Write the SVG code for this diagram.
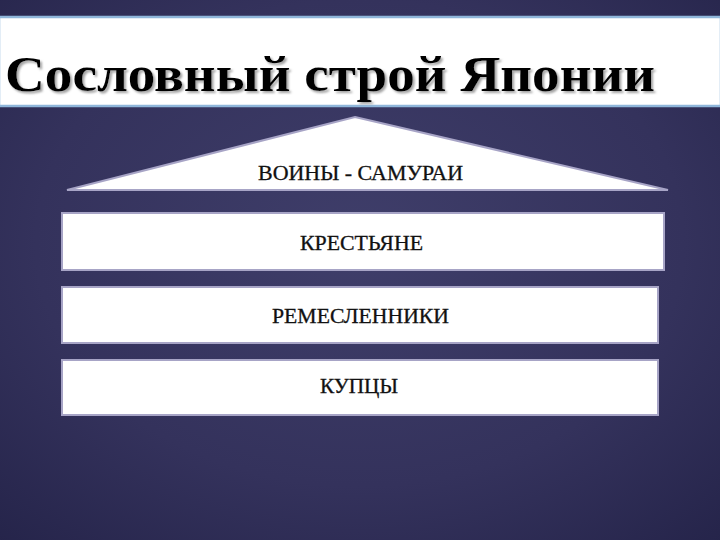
<svg xmlns="http://www.w3.org/2000/svg" width="720" height="540" viewBox="0 0 720 540">
<defs>
<radialGradient id="bg" cx="0.5" cy="0.45" r="0.75">
<stop offset="0" stop-color="#3f3e6a"/>
<stop offset="0.6" stop-color="#34325c"/>
<stop offset="1" stop-color="#25244a"/>
</radialGradient>
<filter id="sh" x="-5%" y="-20%" width="110%" height="150%">
<feDropShadow dx="2" dy="2" stdDeviation="1" flood-color="#9a9a9a" flood-opacity="0.9"/>
</filter>
<style>
.box{fill:#ffffff;stroke:#a7a4c6;stroke-width:2}
.lbl{font-family:"Liberation Serif","DejaVu Serif",serif;font-size:20px;fill:#111;stroke:#111;stroke-width:0.3;text-anchor:middle}
.title{font-family:"Liberation Serif","DejaVu Serif",serif;font-size:50px;font-weight:bold;fill:#000}
</style>
</defs>
<rect x="0" y="0" width="720" height="540" fill="url(#bg)"/>
<g id="title">
<rect x="-1" y="17" width="722" height="89" fill="#ffffff" stroke="#8fb6da" stroke-width="2.5"/>
<text class="title" x="5" y="91" filter="url(#sh)" textLength="650" lengthAdjust="spacingAndGlyphs">Сословный строй Японии</text>
</g>
<g id="samurai">
<polygon points="355,117 668,190 67,190" fill="#ffffff" stroke="#a7a4c6" stroke-width="2"/>
<text class="lbl" x="360.5" y="180" textLength="205" lengthAdjust="spacingAndGlyphs">ВОИНЫ - САМУРАИ</text>
</g>
<g id="peasants">
<rect class="box" x="62" y="213" width="602" height="57"/>
<text class="lbl" x="361.5" y="250" textLength="123" lengthAdjust="spacingAndGlyphs">КРЕСТЬЯНЕ</text>
</g>
<g id="artisans">
<rect class="box" x="62" y="287" width="596" height="56"/>
<text class="lbl" x="360.5" y="323" textLength="177" lengthAdjust="spacingAndGlyphs">РЕМЕСЛЕННИКИ</text>
</g>
<g id="merchants">
<rect class="box" x="62" y="360" width="596" height="55"/>
<text class="lbl" x="359" y="393" textLength="78" lengthAdjust="spacingAndGlyphs">КУПЦЫ</text>
</g>
<g id="connectors"></g>
</svg>
